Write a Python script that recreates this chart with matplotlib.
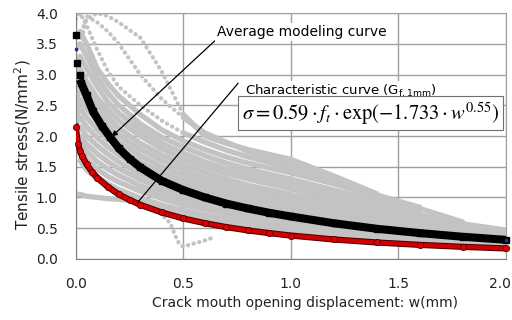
import matplotlib.pyplot as plt
import matplotlib.patheffects as pe
import matplotlib.transforms as mtrans
import numpy as np

nan = np.nan

# crack opening grid used for the grey test curves
grid_w = [0, 0.02, 0.05, 0.1, 0.15, 0.2, 0.3, 0.4, 0.5, 0.6, 0.7, 0.8, 1.0, 1.2, 1.4, 1.6, 1.8, 2.0]

# measured softening curves (grey cloud), values read off the picture
# dotted early parts of the three highest specimens
dotted_curves = [
    [nan, 3.5, 3.9, 4.0, 3.95, 3.85, 3.6, 3.05, 2.35, nan, nan, nan, nan, nan, nan, nan, nan, nan],
    [nan, 3.6, 3.95, 3.85, 3.7, 3.5, 3.0, 2.6, 2.3, nan, nan, nan, nan, nan, nan, nan, nan, nan],
    [3.9, 4.0, 3.8, 3.4, 3.05, 2.8, 2.5, 2.25, 2.05, nan, nan, nan, nan, nan, nan, nan, nan, nan],
]
test_curves = [
    [nan, nan, nan, nan, nan, nan, nan, nan, 2.35, 2.0, 1.88, 1.78, 1.62, 1.35, 1.06, nan, nan, nan],
    [nan, nan, nan, nan, nan, nan, nan, nan, 2.3, 2.05, 1.9, 1.75, 1.55, 1.3, 1.04, 0.84, nan, nan],
    [nan, nan, nan, nan, nan, nan, nan, nan, 2.05, 1.9, 1.77, 1.66, 1.48, 1.28, nan, nan, nan, nan],
    [3.6, 3.7, 3.5, 3.1, 2.85, 2.65, 2.35, 2.1, 1.92, 1.78, 1.66, 1.56, 1.4, 1.22, 1.02, 0.82, 0.6, nan],
    [3.4, 3.5, 3.3, 2.95, 2.7, 2.5, 2.2, 1.98, 1.82, 1.68, 1.56, 1.46, 1.3, 1.12, 0.95, 0.78, nan, nan],
    [3.2, 3.3, 3.1, 2.8, 2.55, 2.37, 2.1, 1.88, 1.72, 1.58, 1.47, 1.38, 1.22, 1.05, 0.88, 0.72, 0.57, 0.47],
    [3.0, 3.1, 2.9, 2.62, 2.42, 2.25, 2.0, 1.79, 1.63, 1.5, 1.39, 1.3, 1.14, 0.98, 0.82, 0.68, 0.55, 0.44],
    [2.8, 2.9, 2.75, 2.5, 2.3, 2.13, 1.88, 1.69, 1.54, 1.41, 1.3, 1.2, 1.05, 0.9, 0.76, 0.63, 0.52, 0.42],
    [2.6, 2.75, 2.6, 2.37, 2.18, 2.02, 1.78, 1.6, 1.45, 1.32, 1.22, 1.13, 0.98, 0.84, 0.71, 0.59, 0.49, 0.40],
    [2.45, 2.6, 2.45, 2.24, 2.06, 1.91, 1.68, 1.5, 1.36, 1.24, 1.14, 1.05, 0.91, 0.78, 0.66, 0.55, 0.46, 0.38],
    [2.3, 2.45, 2.3, 2.1, 1.94, 1.8, 1.58, 1.41, 1.27, 1.16, 1.06, 0.98, 0.85, 0.73, 0.62, 0.52, 0.43, 0.36],
    [2.2, 2.3, 2.15, 1.97, 1.82, 1.69, 1.48, 1.32, 1.19, 1.08, 0.99, 0.91, 0.79, 0.68, 0.58, 0.49, 0.41, 0.34],
    [2.1, 2.15, 2.0, 1.84, 1.7, 1.58, 1.38, 1.23, 1.11, 1.0, 0.92, 0.85, 0.73, 0.63, 0.54, 0.46, 0.38, 0.32],
    [2.0, 2.0, 1.87, 1.71, 1.58, 1.47, 1.29, 1.14, 1.03, 0.93, 0.85, 0.78, 0.67, 0.58, 0.5, 0.43, 0.36, 0.3],
    [1.95, 1.9, 1.75, 1.58, 1.46, 1.36, 1.19, 1.06, 0.95, 0.86, 0.79, 0.72, 0.62, 0.54, 0.46, 0.4, 0.34, 0.28],
    [1.9, 1.8, 1.62, 1.46, 1.34, 1.25, 1.1, 0.98, 0.88, 0.8, 0.73, 0.67, 0.57, 0.5, 0.43, 0.37, 0.32, 0.27],
    [1.85, 1.7, 1.5, 1.33, 1.22, 1.13, 0.99, 0.88, 0.79, 0.71, 0.65, 0.6, 0.51, 0.44, 0.38, 0.33, 0.28, 0.24],
    [nan, 1.6, 1.45, 1.3, 1.16, 1.06, 0.93, 0.8, 0.71, 0.64, 0.58, 0.53, 0.45, 0.38, 0.32, 0.28, 0.24, 0.21],
    [1.05, 1.05, 1.02, 1.0, 0.98, 0.97, 0.93, nan, nan, nan, nan, nan, nan, nan, nan, nan, nan, nan],
]
dip_w = [0.3, 0.35, 0.4, 0.44, 0.46, 0.48, 0.5, 0.55, 0.6, 0.65]
dip_s = [0.95, 0.85, 0.72, 0.58, 0.4, 0.25, 0.2, 0.25, 0.3, 0.36]

# average modelling curve and characteristic curve
model_w = [0, 0.008, 0.019, 0.026, 0.05, 0.08, 0.12, 0.16, 0.2, 0.25, 0.3, 0.4, 0.5, 0.6,
           0.7, 0.8, 0.9, 1.0, 1.2, 1.4, 1.6, 1.8, 2.0]
avg_s = [3.65, 3.19, 2.99, 2.86, 2.66, 2.40, 2.17, 1.98, 1.80, 1.63, 1.49, 1.27, 1.12, 1.00,
         0.90, 0.82, 0.75, 0.69, 0.58, 0.49, 0.42, 0.36, 0.31]
char_w = [0, 0.01, 0.02, 0.03, 0.05, 0.075, 0.1, 0.15, 0.2, 0.25, 0.3, 0.4, 0.5, 0.6, 0.7,
          0.8, 0.9, 1.0, 1.2, 1.4, 1.6, 1.8, 2.0]
char_s = [2.15, 1.87, 1.76, 1.67, 1.54, 1.42, 1.32, 1.17, 1.05, 0.96, 0.88, 0.755, 0.658,
          0.581, 0.517, 0.464, 0.419, 0.380, 0.316, 0.267, 0.228, 0.196, 0.17]
blue_w = [0.0, 2.0]
blue_s = [3.42, 0.31]

fig = plt.figure(figsize=(5.12, 3.2), dpi=100)
ax = fig.add_axes([0.148, 0.191, 0.840, 0.768])

grey = '#c3c3c3'
for s in dotted_curves:
    ax.plot(grid_w, s, color=grey, lw=3, linestyle=(0, (0.1, 1.3)),
            dash_capstyle='round', zorder=2)
for s in test_curves:
    ax.plot(grid_w, s, color=grey, lw=3.8, solid_capstyle='round', zorder=2)
ax.plot(dip_w, dip_s, color=grey, lw=3, linestyle=(0, (0.1, 1.3)),
        dash_capstyle='round', zorder=2)

ax.plot(model_w[3:], avg_s[3:], color='black', lw=5.8, zorder=4)
ax.plot(model_w, avg_s, 's', color='black', ms=4.5, zorder=4, clip_on=False)

ax.plot(char_w, char_s, color='#d00000', lw=3,
        path_effects=[pe.Stroke(linewidth=4.5, foreground='#500000'), pe.Normal()], zorder=5)
ax.plot(char_w, char_s, 'o', color='#e00000', mec='#600000', mew=0.6, ms=4.5,
        zorder=5, clip_on=False)
ax.plot(blue_w, blue_s, 's', color='#2030a0', ms=2, zorder=6, clip_on=False)

ax.set_xlim(0, 2.0)
ax.set_ylim(0, 4.0)
ax.set_xticks([0, 0.5, 1.0, 1.5, 2.0])
ax.set_yticks(np.arange(0, 4.01, 0.5))
ax.xaxis.set_major_formatter(plt.FormatStrFormatter('%.1f'))
ax.yaxis.set_major_formatter(plt.FormatStrFormatter('%.1f'))
ax.grid(True, color='#a0a0a0', lw=1)
ax.set_axisbelow(True)
for side in ['top', 'right']:
    ax.spines[side].set_color('#a0a0a0')
for side in ['left', 'bottom']:
    ax.spines[side].set_color('#808080')
ax.tick_params(length=0, labelsize=10, colors='#222222')
ax.tick_params(axis='x', pad=13)
ax.tick_params(axis='y', pad=13)
last = ax.get_xticklabels()[-1]
last.set_transform(last.get_transform() + mtrans.ScaledTranslation(-6 / 100, 0, fig.dpi_scale_trans))

ax.set_xlabel('Crack mouth opening displacement: w(mm)', fontsize=10, color='#222222')
ax.set_ylabel('Tensile stress(N/mm$^2$)', fontsize=11, color='#222222')
ax.xaxis.set_label_coords(0.533, -0.15)
ax.yaxis.set_label_coords(-0.1, 0.465)

ax.annotate('Average modeling curve', xy=(0.167, 1.99), xytext=(0.656, 3.58),
            fontsize=10, ha='left', va='bottom', zorder=10,
            bbox=dict(boxstyle='square,pad=0.15', fc='white', ec='none'),
            arrowprops=dict(arrowstyle='-|>', color='black', lw=0.9, relpos=(0, 0),
                            mutation_scale=8, shrinkA=0, shrinkB=0))
ax.annotate('', xy=(0.288, 0.92), xytext=(0.755, 2.86), zorder=10,
            arrowprops=dict(arrowstyle='-', color='black', lw=0.9, shrinkA=0, shrinkB=0))
ax.text(0.786, 2.585, 'Characteristic curve (G$_{\\rm f,1mm}$)', fontsize=9.5,
        ha='left', va='bottom', zorder=10,
        bbox=dict(boxstyle='square,pad=0.1', fc='white', ec='none'))
ax.text(0.772, 2.37, r'$\sigma = 0.59 \cdot f_t \cdot \exp(-1.733 \cdot w^{0.55})$',
        fontsize=14.8, math_fontfamily='stix', ha='left', va='center', zorder=10,
        bbox=dict(boxstyle='square,pad=0.18', fc='white', ec='#707070', lw=0.8))

fig.savefig('out.png', dpi=100)
